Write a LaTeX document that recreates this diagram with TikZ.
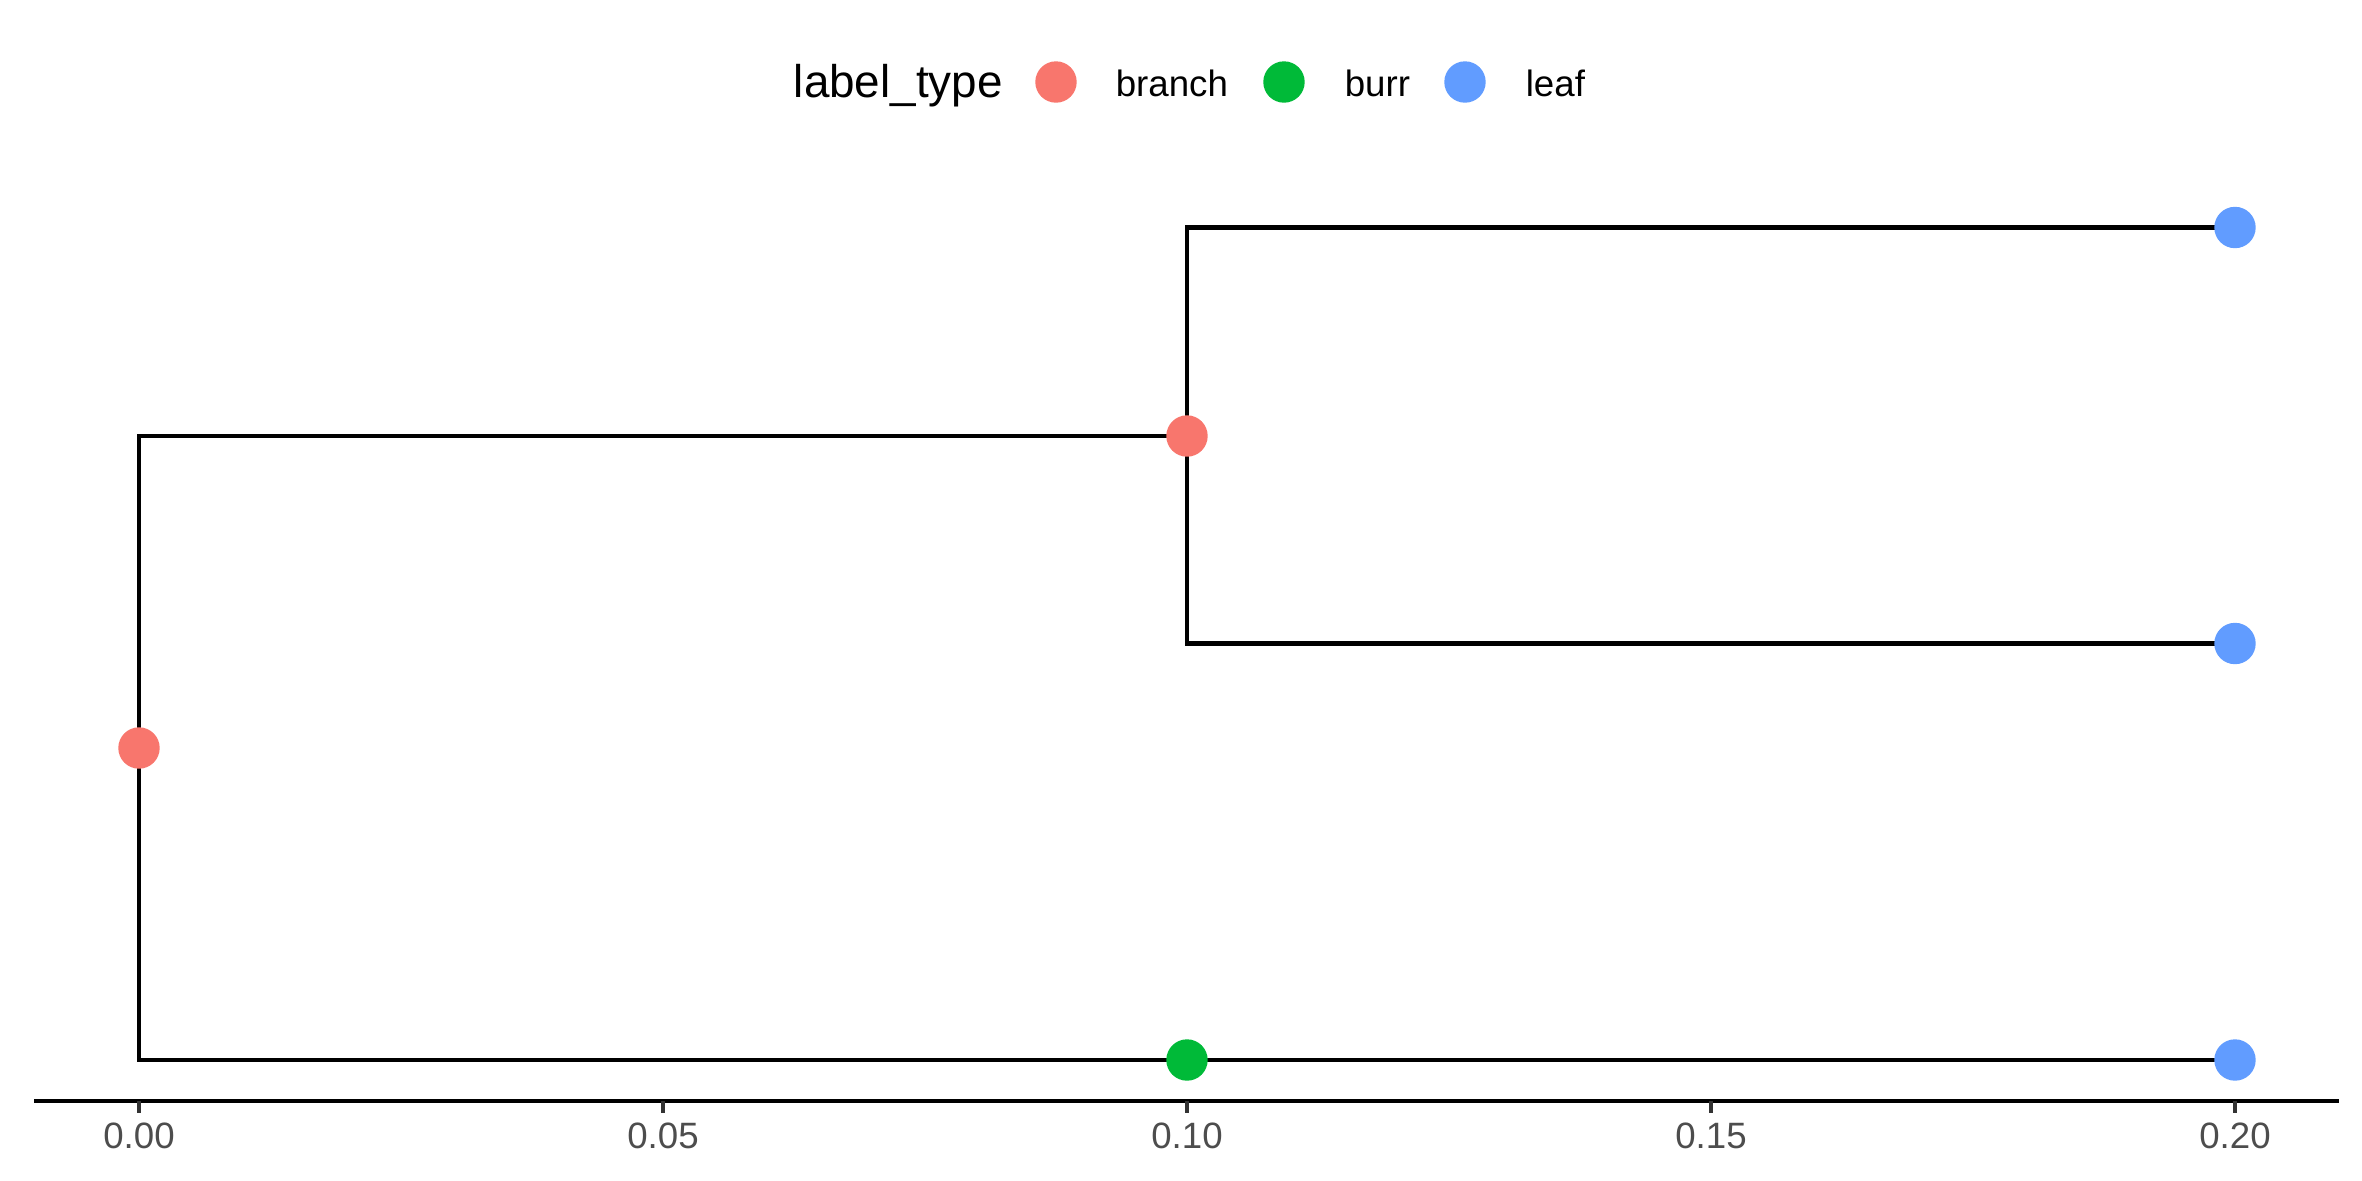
\documentclass[tikz,border=0pt]{standalone}
\usepackage{fontspec}
\setmainfont{Liberation Sans}
\usetikzlibrary{backgrounds}
\definecolor{cbranch}{HTML}{F8766D}
\definecolor{cburr}{HTML}{00BA38}
\definecolor{cleaf}{HTML}{619CFF}
\definecolor{axtext}{HTML}{4D4D4D}
\definecolor{axtick}{HTML}{333333}
\tikzset{
  pt/.style={circle, inner sep=0pt, minimum size=9.94pt, draw=none, fill=#1},
  edge/.style={line width=1.0pt, black},
  axlabel/.style={anchor=base, inner sep=0pt, font=\fontsize{8.8}{10}\selectfont, text=axtext},
  leglabel/.style={anchor=base west, inner sep=0pt, font=\fontsize{8.8}{10}\selectfont},
  tickmark/.style={line width=1.0pt, axtick}
}
\begin{document}
\begin{tikzpicture}[x=0.24pt, y=-0.24pt]
\useasboundingbox (0,0) rectangle (2362,1181);
% legend
\node[anchor=base west, inner sep=0pt, font=\fontsize{11}{13}\selectfont] (legtitle) at (793,97) {label\_type};
\node[pt=cbranch] (kbranch) at (1056,82) {};
\node[leglabel] (tbranch) at (1115,96) {branch};
\node[pt=cburr] (kburr) at (1284,82) {};
\node[leglabel] (tburr) at (1344,96) {burr};
\node[pt=cleaf] (kleaf) at (1465,82) {};
\node[leglabel] (tleaf) at (1525,96) {leaf};
% tree points
\node[pt=cbranch] (root) at (139,748) {};
\node[pt=cbranch] (b1) at (1187,436) {};
\node[pt=cburr] (burr) at (1187,1060) {};
\node[pt=cleaf] (l1) at (2235,227.5) {};
\node[pt=cleaf] (l2) at (2235,643.5) {};
\node[pt=cleaf] (l3) at (2235,1060) {};
% edges behind points
\begin{pgfonlayer}{background}
\draw[edge] (root.center) |- (b1.center);
\draw[edge] (root.center) |- (burr.center);
\draw[edge] (burr.center) -- (l3.center);
\draw[edge] (b1.center) |- (l1.center);
\draw[edge] (b1.center) |- (l2.center);
\end{pgfonlayer}
% x axis
\coordinate (axL) at (34,1101);
\coordinate (axR) at (2339,1101);
\draw[line width=1.07pt, black] (axL) -- (axR);
\foreach \x/\lab in {139/0.00, 663/0.05, 1187/0.10, 1711/0.15, 2235/0.20}{
  \coordinate (t\x) at (\x,1101);
  \draw[tickmark] (t\x) -- ++(0,11.5);
  \node[axlabel] at (\x,1148) {\lab};
}
\end{tikzpicture}
\end{document}
